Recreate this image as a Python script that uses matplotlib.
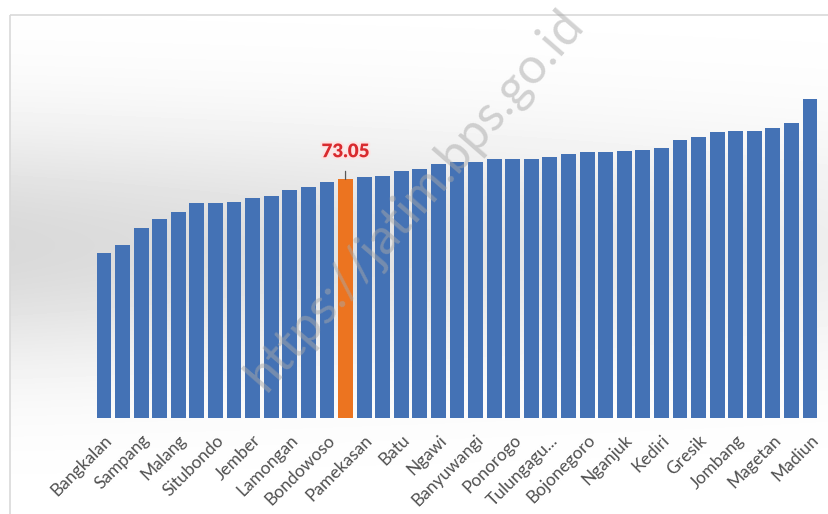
import numpy as np
import matplotlib.pyplot as plt
from matplotlib import patheffects
from matplotlib.patches import Rectangle

# 39 bars: 38 kabupaten/kota + Jawa Timur (orange), sorted ascending
values = [69.04, 69.48, 70.38, 70.89, 71.26, 71.78, 71.79, 71.80, 72.02, 72.15,
          72.48, 72.66, 72.93, 73.05, 73.17, 73.26, 73.50, 73.61, 73.88, 73.99,
          74.00, 74.16, 74.16, 74.17, 74.30, 74.43, 74.54, 74.58, 74.59, 74.66,
          74.76, 75.21, 75.36, 75.65, 75.72, 75.73, 75.85, 76.16, 77.44]
# only every second bar carries a label
tick_labels = ["Bangkalan", "Sampang", "Malang", "Situbondo", "Jember", "Lamongan",
               "Bondowoso", "Pamekasan", "Batu", "Ngawi", "Banyuwangi", "Ponorogo",
               "Tulungagu...", "Bojonegoro", "Nganjuk", "Kediri", "Gresik", "Jombang",
               "Magetan", "Madiun"]
highlight = 13
highlight_text = "73.05"

W, H = 829, 514
fig = plt.figure(figsize=(W / 100, H / 100), dpi=100)
plt.rcParams['font.family'] = ['Lato', 'DejaVu Sans']

# background: soft grey band behind the bars, white frame outside
bg = fig.add_axes([0, 0, 1, 1], zorder=0)
yy, xx = np.mgrid[0:H, 0:W]
depth = 0.15 * np.exp(-((yy - 245) / 120.0) ** 2) * (1 - 0.55 * xx / W)
shade = 1 - depth
shade[(yy < 15) | (xx < 10)] = 1.0
bg.imshow(shade, cmap='gray', vmin=0, vmax=1, extent=[0, W, H, 0], aspect='auto')
bg.add_patch(Rectangle((10, 15), W + 20, H, fill=False, edgecolor='#d9d9d9', lw=1.2))
bg.set_xlim(0, W)
bg.set_ylim(H, 0)
bg.axis('off')

# main bars
step = 18.58
left = 104 - 0.5 * step
base, top = 418, 30
ax = fig.add_axes([left / W, (H - base) / H, 39 * step / W, (base - top) / H], zorder=1)
ax.patch.set_alpha(0)

k = (values[highlight] - 60) / 238.5
colors = ['#4472b5'] * len(values)
colors[highlight] = '#ec7420'
ax.bar(range(len(values)), [v - 60 for v in values], bottom=60, width=0.8,
       color=colors, edgecolor='none')
ax.set_xlim(-0.5, len(values) - 0.5)
ax.set_ylim(60, 60 + (base - top) * k)

ax.annotate(highlight_text, xy=(highlight, values[highlight]), xytext=(0, 20),
            textcoords='offset points', ha='center', va='center',
            fontsize=13.5, fontweight='heavy', color='#d92a2e',
            path_effects=[patheffects.withStroke(linewidth=3, foreground='#fde3e3')],
            arrowprops=dict(arrowstyle='-', color='#595959', lw=0.9, shrinkA=6, shrinkB=0))

ax.set_xticks(range(0, len(values), 2))
ax.set_xticklabels(tick_labels, rotation=45, ha='right', rotation_mode='anchor',
                   fontsize=12.5, color='#505050')
ax.tick_params(axis='x', length=0, pad=10)
ax.set_yticks([])
for s in ax.spines.values():
    s.set_visible(False)

# watermark on top of everything, semi-transparent
fig.text(415 / W, 1 - 200 / H, "https://jatim.bps.go.id", rotation=49,
         ha='center', va='center', fontsize=36, color='#a8a8a8', alpha=0.5, zorder=5)

fig.savefig('out.png', dpi=100)
